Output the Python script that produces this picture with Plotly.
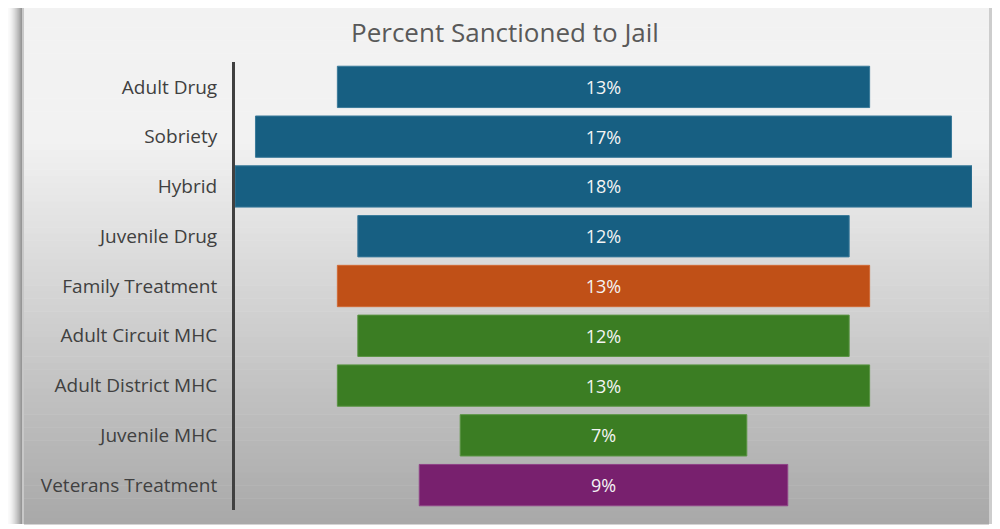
import plotly.graph_objects as go

categories = ["Adult Drug", "Sobriety", "Hybrid", "Juvenile Drug", "Family Treatment",
              "Adult Circuit MHC", "Adult District MHC", "Juvenile MHC", "Veterans Treatment"]
values = [13, 17, 18, 12, 13, 12, 13, 7, 9]
colors = ["#175f82", "#175f82", "#175f82", "#175f82", "#c05017",
          "#3b7d23", "#3b7d23", "#3b7d23", "#78206e"]
line_colors = ["#3a7a9a", "#3a7a9a", "#3a7a9a", "#3a7a9a", "#d06a36",
               "#5a9443", "#5a9443", "#5a9443", "#8f4286"]
labels = [f"{v}%" for v in values]

# figure is drawn with an 8px page offset; work in screen pixels and convert
OFF = 8
FW, FH = 992, 521
L, R, T, B = 235 - OFF, FW - (972 - OFF), 62 - OFF, FH - (510 - OFF)
PW, PH = FW - L - R, FH - T - B


def px(sx):
    return (sx - OFF - L) / PW


def py(sy):
    return 1 - (sy - OFF - T) / PH


fig = go.Figure()
fig.add_trace(go.Bar(
    y=categories, x=values, base=[-v / 2 for v in values], orientation="h",
    marker=dict(color=colors, line=dict(color=line_colors, width=1)),
    text=labels, textposition="inside", insidetextanchor="middle",
    textfont=dict(color="#f4f4f4", size=18, family="Open Sans"),
    width=0.83, hoverinfo="skip",
))

shapes = []
top, bottom = 8.0, 524.0
n = 80
for i in range(n):
    ya = top + (bottom - top) * i / n
    yb = top + (bottom - top) * (i + 1) / n + 0.5
    t = (ya + yb) / 2
    if t < 140:
        g = 242
    else:
        g = 242 - (242 - 168) * (t - 140) / (bottom - 140)
    g = int(round(g))
    shapes.append(dict(type="rect", xref="paper", yref="paper", x0=px(24), x1=px(989),
                       y0=py(yb), y1=py(ya), fillcolor=f"rgb({g},{g},{g})",
                       line=dict(width=0), layer="below"))
# left shadow
for i in range(14):
    xa = 8 + i
    g = int(round(250 - (250 - 150) * (i / 13) ** 1.5))
    shapes.append(dict(type="rect", xref="paper", yref="paper", x0=px(xa), x1=px(xa + 1.2),
                       y0=py(bottom), y1=py(top), fillcolor=f"rgb({g},{g},{g})",
                       line=dict(width=0), layer="below"))
shapes.append(dict(type="rect", xref="paper", yref="paper", x0=px(22), x1=px(24),
                   y0=py(bottom), y1=py(top), fillcolor="rgb(200,200,200)",
                   line=dict(width=0), layer="below"))
# right edge band
shapes.append(dict(type="rect", xref="paper", yref="paper", x0=px(989), x1=px(1000),
                   y0=py(bottom), y1=py(top), fillcolor="rgb(170,170,170)",
                   line=dict(width=0), layer="below"))
shapes.append(dict(type="rect", xref="paper", yref="paper", x0=px(989), x1=px(992),
                   y0=py(bottom), y1=py(top), fillcolor="rgb(205,205,205)",
                   line=dict(width=0), layer="below"))

fig.update_layout(
    width=FW, height=FH,
    margin=dict(l=L, r=R, t=T, b=B),
    paper_bgcolor="white", plot_bgcolor="rgba(0,0,0,0)",
    title=dict(text="Percent Sanctioned to Jail", x=(505 - OFF) / FW, xanchor="center",
               y=1 - (33 - OFF) / FH, yanchor="middle",
               font=dict(family="Open Sans", size=26, color="#595959")),
    xaxis=dict(range=[-9, 9], visible=False, fixedrange=True),
    yaxis=dict(autorange="reversed", showgrid=False, zeroline=False,
               showline=True, linecolor="#404040", linewidth=3,
               ticks="", ticklabelstandoff=11,
               tickfont=dict(family="Open Sans", size=19, color="#404040")),
    shapes=shapes, showlegend=False, bargap=0.17,
)

fig.write_html("out.html")
